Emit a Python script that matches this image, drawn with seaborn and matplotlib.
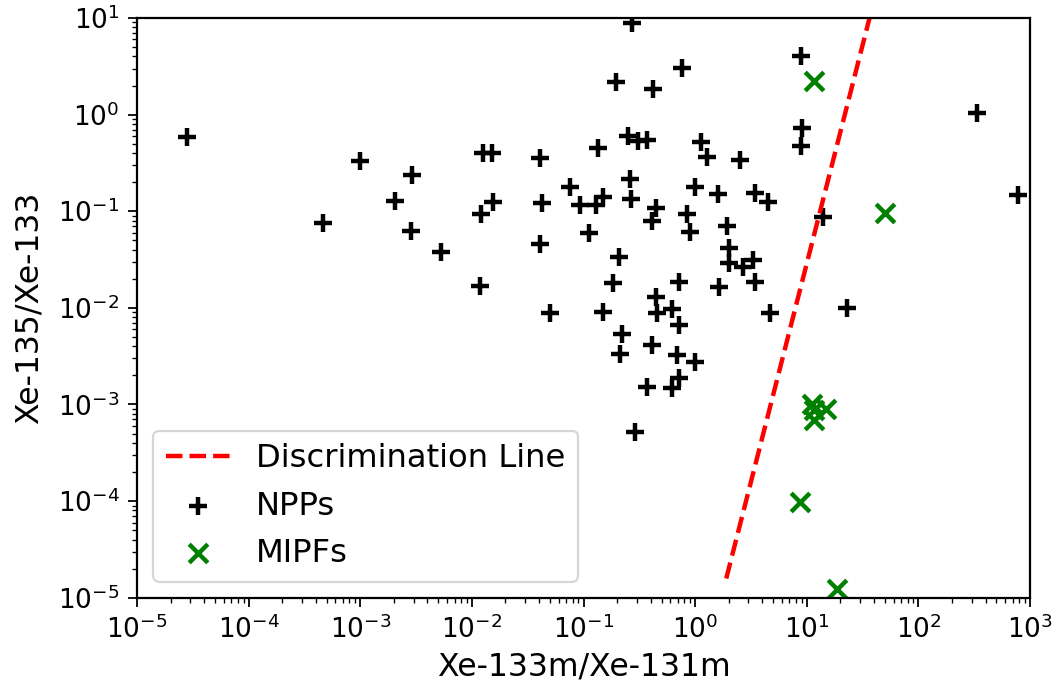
import matplotlib
matplotlib.use("Agg")
import matplotlib.pyplot as plt
import seaborn as sns
import pandas as pd

# NPPs (Xe-133m/Xe-131m, Xe-135/Xe-133)
npp_x = [2.8e-5, 4.6e-4, 1.0e-3, 2.05e-3, 2.9e-3, 2.85e-3, 5.3e-3, 0.0118, 0.0121, 0.01254,
         0.01507, 0.0155, 0.0408, 0.0426, 0.0408, 0.050, 0.0764, 0.272, 8.9, 0.766,
         0.196, 0.418, 334, 9.15, 8.9, 0.134, 0.249, 0.310, 0.374, 1.125,
         1.28, 2.51, 784, 14.0, 0.0933, 0.130, 0.151, 0.262, 0.265, 0.448,
         0.412, 1.0, 0.843, 0.895, 1.61, 3.45, 4.51, 1.92, 0.112, 0.207,
         0.184, 0.719, 1.64, 2.0, 2.0, 2.67, 3.33, 3.45, 0.448, 0.151,
         0.457, 0.618, 0.723, 4.7, 22.9, 0.220, 0.214, 0.412, 0.686, 1.0,
         0.723, 0.626, 0.369, 0.29]
npp_y = [0.586, 0.0755, 0.331, 0.128, 0.237, 0.0624, 0.0379, 0.0168, 0.0935, 0.397,
         0.397, 0.1245, 0.356, 0.123, 0.0457, 0.0088, 0.1765, 8.8, 4.07, 3.06,
         2.19, 1.83, 1.03, 0.733, 0.473, 0.454, 0.60, 0.533, 0.546, 0.524,
         0.366, 0.341, 0.148, 0.0865, 0.116, 0.116, 0.139, 0.2155, 0.1336, 0.107,
         0.0793, 0.1765, 0.0929, 0.0605, 0.1517, 0.1556, 0.1236, 0.0708, 0.059, 0.0333,
         0.0182, 0.0186, 0.01655, 0.0413, 0.0289, 0.0266, 0.0313, 0.0186, 0.0130, 0.00912,
         0.00877, 0.00964, 0.00664, 0.00877, 0.0099, 0.00532, 0.00333, 0.00412, 0.00324, 0.00277,
         0.00186, 0.00147, 0.0015, 5.2e-4]

# MIPFs
mipf_x = [11.5, 50.4, 11.1, 14.9, 11.5, 11.5, 8.73, 18.6]
mipf_y = [2.24, 0.095, 1.01e-3, 8.95e-4, 8.75e-4, 6.9e-4, 9.85e-5, 1.22e-5]

# Discrimination line end points
line_x = [1.9, 36.5]
line_y = [1.58e-5, 10.0]

npp = pd.DataFrame({"x": npp_x, "y": npp_y})
mipf = pd.DataFrame({"x": mipf_x, "y": mipf_y})
line = pd.DataFrame({"x": line_x, "y": line_y})

fig = plt.figure(figsize=(1054 / 160, 688 / 160), dpi=160)
ax = fig.add_axes([137 / 1054, 1 - 597.7 / 688, (1030 - 137) / 1054, (597.7 - 18) / 688])

sns.lineplot(data=line, x="x", y="y", ax=ax, color="red", linestyle="--",
             linewidth=2, label="Discrimination Line")
sns.scatterplot(data=npp, x="x", y="y", ax=ax, marker="+", color="black",
                s=70, linewidth=2, label="NPPs")
sns.scatterplot(data=mipf, x="x", y="y", ax=ax, marker="x", color="green",
                s=70, linewidth=2, label="MIPFs")

ax.set_xscale("log")
ax.set_yscale("log")
ax.set_xlim(1e-5, 1e3)
ax.set_ylim(1e-5, 1e1)
ax.set_xlabel("Xe-133m/Xe-131m", fontsize=14.2, labelpad=3.5)
ax.set_ylabel("Xe-135/Xe-133", fontsize=14.2, labelpad=6)
ax.tick_params(axis="both", which="major", labelsize=11.8, length=4, pad=4)
ax.tick_params(axis="both", which="minor", length=2.2)
for sp in ax.spines.values():
    sp.set_linewidth(1.0)
ax.legend(loc="lower left", fontsize=14.5)

fig.savefig("out.png", dpi=160)
